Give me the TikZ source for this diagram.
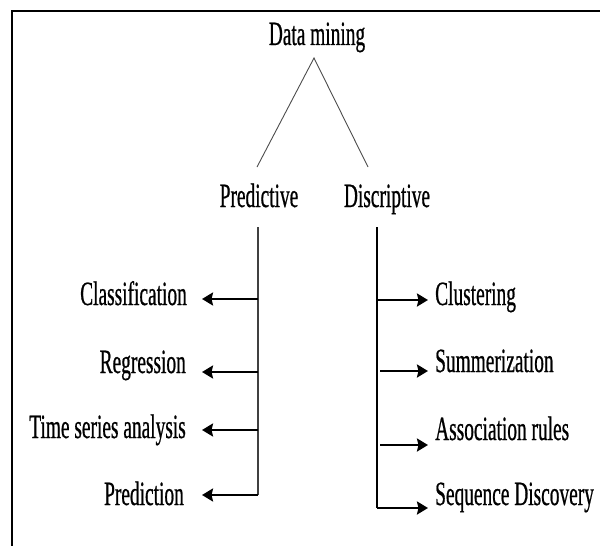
\documentclass[tikz,border=0pt]{standalone}
\usepackage{fontspec}
\setmainfont[FakeStretch=0.57,FakeBold=0.6]{Liberation Serif}
\usetikzlibrary{arrows.meta}
\begin{document}
\begin{tikzpicture}[x=1pt,y=-1pt,
  lbl/.style={inner sep=0pt,font=\fontsize{34}{38}\selectfont},
  thinline/.style={line width=0.9pt,draw=black!70},
  vline/.style={line width=1.3pt,draw=black!75},
  arr/.style={line width=2.4pt,-{Stealth[length=11pt,width=13pt,inset=1.5pt]}},
  frame/.style={line width=2.5pt}]
\useasboundingbox (0,0) rectangle (600,546);
\draw[frame] (12,546) -- (12,11) -- (600,11);
% top level
\node[lbl,anchor=base] (dm) at (317,45) {Data mining};
\coordinate (apex) at (314,58);
\coordinate (pl) at (257,167);
\coordinate (pr) at (368,167);
\draw[thinline] (pl) -- (apex) -- (pr);
\node[lbl,anchor=base] (pred) at (259,207) {Predictive};
\node[lbl,anchor=base] (desc) at (387,207) {Discriptive};
% vertical lines
\coordinate (lt) at (258,227);
\coordinate (lb) at (258,495);
\coordinate (rt) at (377,227);
\coordinate (rb) at (377,508);
\draw[vline] (lt) -- (lb);
\draw[line width=1.5pt] (rt) -- (rb);
% left labels
\node[lbl,anchor=base east] (c1) at (187,305) {Classification};
\node[lbl,anchor=base east] (c2) at (186,373) {Regression};
\node[lbl,anchor=base east] (c3) at (186,438) {Time series analysis};
\node[lbl,anchor=base east] (c4) at (184,505) {Prediction};
\coordinate (la1) at (258,299);
\coordinate (la2) at (258,372);
\coordinate (la3) at (258,430);
\coordinate (lt1) at (202,299);
\coordinate (lt2) at (202,372);
\coordinate (lt3) at (202,430);
\coordinate (lt4) at (202,495);
\draw[arr] (la1) -- (lt1);
\draw[arr] (la2) -- (lt2);
\draw[arr] (la3) -- (lt3);
\draw[arr] (lb) -- (lt4);
% right labels
\node[lbl,anchor=base west] (d1) at (435,305) {Clustering};
\node[lbl,anchor=base west] (d2) at (435,372) {Summerization};
\node[lbl,anchor=base west] (d3) at (435,440) {Association rules};
\node[lbl,anchor=base west] (d4) at (435,505) {Sequence Discovery};
\coordinate (ra1) at (377,300);
\coordinate (ra2) at (380,371);
\coordinate (ra3) at (380,445);
\coordinate (rt1) at (428,300);
\coordinate (rt2) at (428,371);
\coordinate (rt3) at (428,445);
\coordinate (rt4) at (428,508);
\draw[arr] (ra1) -- (rt1);
\draw[arr] (ra2) -- (rt2);
\draw[arr] (ra3) -- (rt3);
\draw[arr] (rb) -- (rt4);
\end{tikzpicture}
\end{document}
